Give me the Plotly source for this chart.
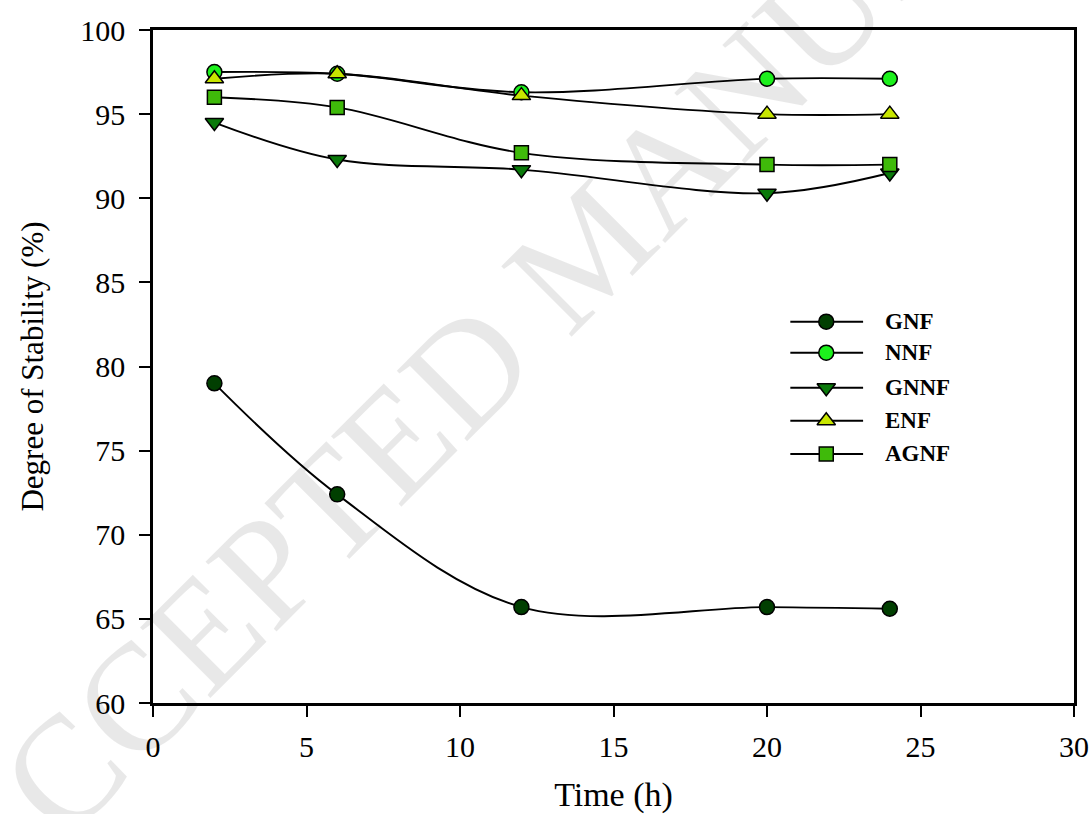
import plotly.graph_objects as go

# Sampling times (h)
time_h = [2, 6, 12, 20, 24]

# Degree of stability (%) for each nanofluid
gnf = [79.0, 72.4, 65.7, 65.7, 65.6]
nnf = [97.5, 97.4, 96.3, 97.1, 97.1]
gnnf = [94.5, 92.3, 91.7, 90.3, 91.5]
enf = [97.1, 97.4, 96.1, 95.0, 95.0]
agnf = [96.0, 95.4, 92.7, 92.0, 92.0]

series_names = ["GNF", "NNF", "GNNF", "ENF", "AGNF"]
series_values = [gnf, nnf, gnnf, enf, agnf]
series_symbols = ["circle", "circle", "triangle-down", "triangle-up", "square"]
series_colors = ["#013f01", "#1cf01c", "#0a7a0a", "#c8e600", "#3fba0a"]
series_sizes = [15, 15, 16, 16, 14]

x_ticks = [0, 5, 10, 15, 20, 25, 30]
y_ticks = [60, 65, 70, 75, 80, 85, 90, 95, 100]

SERIF = "Liberation Serif, Times New Roman, serif"

fig = go.Figure()

for name, vals, sym, col, sz in zip(series_names, series_values, series_symbols,
                                   series_colors, series_sizes):
    fig.add_trace(go.Scatter(
        x=time_h, y=vals, name=name, mode="lines+markers",
        line=dict(color="black", width=1.9, shape="spline", smoothing=1.0),
        marker=dict(symbol=sym, size=sz, color=col,
                    line=dict(color="black", width=1.5)),
        showlegend=False,
    ))

# Hand-built legend on an overlay axis spanning the plot area (0..1)
leg_x0, leg_x1, leg_xm, leg_xt = 0.692, 0.771, 0.731, 0.793
leg_rows = [0.5666, 0.5205, 0.4685, 0.4195, 0.370]
for name, sym, col, sz, yy in zip(series_names, series_symbols, series_colors,
                                  series_sizes, leg_rows):
    fig.add_trace(go.Scatter(
        x=[leg_x0, leg_x1], y=[yy, yy], mode="lines",
        line=dict(color="black", width=1.9),
        xaxis="x2", yaxis="y2", showlegend=False, hoverinfo="skip",
    ))
    fig.add_trace(go.Scatter(
        x=[leg_xm], y=[yy], mode="markers",
        marker=dict(symbol=sym, size=sz, color=col,
                    line=dict(color="black", width=1.5)),
        xaxis="x2", yaxis="y2", showlegend=False, hoverinfo="skip",
    ))
    fig.add_annotation(
        x=leg_xt, y=yy, xref="x2", yref="y2", text=f"<b>{name}</b>",
        showarrow=False, xanchor="left", yanchor="middle",
        font=dict(family=SERIF, size=23, color="black"),
    )

# Manuscript watermark
fig.add_annotation(
    x=0.4723, y=0.676, xref="paper", yref="paper",
    text="ACCEPTED MANUSCRIPT", showarrow=False, textangle=-45,
    xanchor="center", yanchor="middle",
    font=dict(family=SERIF, size=152, color="rgba(0,0,0,0.09)"),
)

axis_common = dict(
    showline=True, linecolor="black", linewidth=2.5, mirror=True,
    ticks="outside", ticklen=11, tickwidth=2, tickcolor="black",
    showgrid=False, zeroline=False, automargin=False,
    ticklabeloverflow="allow",
    tickfont=dict(family=SERIF, size=30, color="black"),
)

fig.update_layout(
    width=1092, height=814,
    margin=dict(l=153, r=18, t=30, b=111),
    paper_bgcolor="white", plot_bgcolor="white",
    xaxis=dict(range=[0, 30], tickvals=x_ticks, ticklabelstandoff=4,
               title=dict(text="Time (h)", font=dict(family=SERIF, size=34, color="black"),
                          standoff=26),
               **axis_common),
    yaxis=dict(range=[60, 100], tickvals=y_ticks, ticklabelstandoff=8,
               title=dict(text="Degree of Stability (%)",
                          font=dict(family=SERIF, size=31, color="black"), standoff=28),
               **axis_common),
    xaxis2=dict(range=[0, 1], overlaying="x", visible=False, fixedrange=True),
    yaxis2=dict(range=[0, 1], overlaying="y", visible=False, fixedrange=True),
    showlegend=False,
)

fig.write_html("out.html")
